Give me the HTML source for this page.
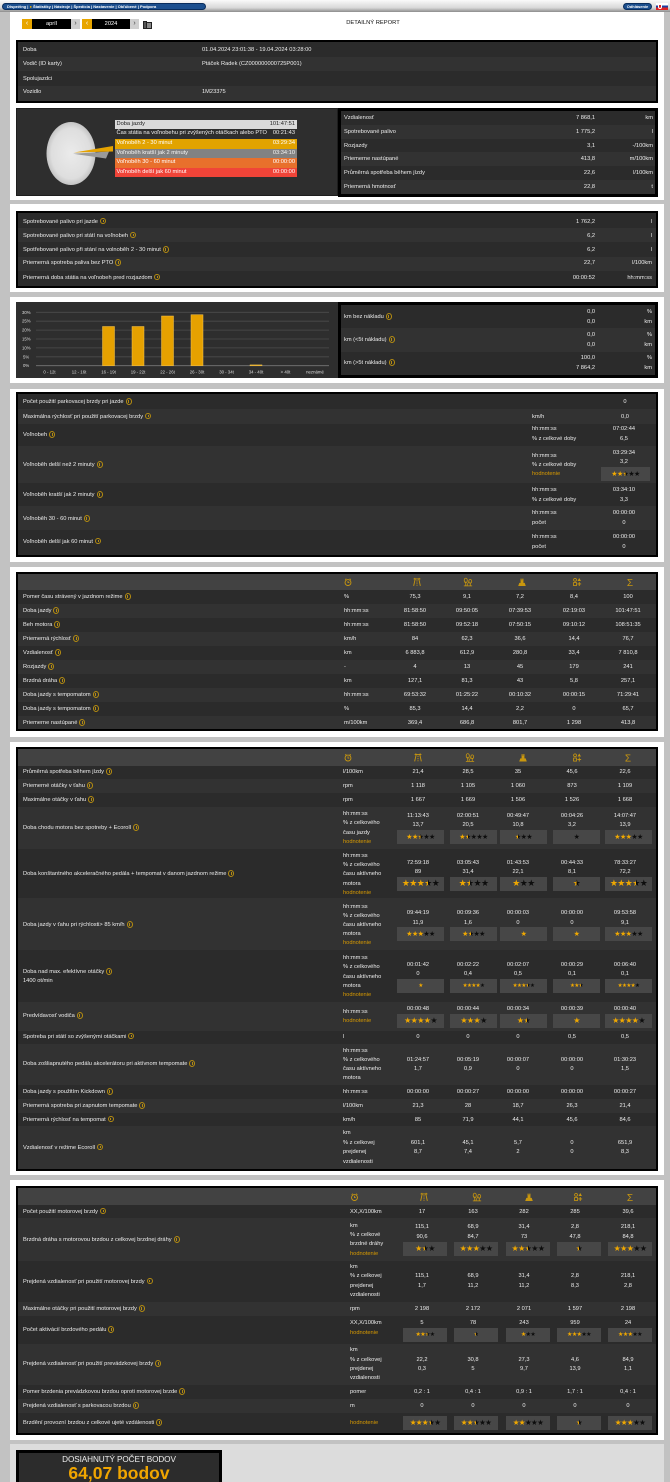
<!DOCTYPE html>
<html><head><meta charset="utf-8">
<style>
*{margin:0;padding:0;box-sizing:border-box}
html,body{width:670px;height:1482px;overflow:hidden}
body{background:#c2c2c2;position:relative;font-family:"Liberation Sans","DejaVu Sans",sans-serif;font-size:5.7px;color:#ececec}
div{position:absolute}
.t{white-space:nowrap;line-height:8px;height:8px}
.w{left:10px;width:654px;background:#fff}
.p{left:16px;width:642px;background:#000}
.r{left:18px;width:638px}
.d1{background:#2b2b2b}.d2{background:#323232}.hd{background:#424242}
.ic{display:inline-block;width:6px;height:6.5px;border:0.8px solid #b38b12;border-radius:50%;margin-left:2px;vertical-align:-1.5px;position:relative}
.ic:after{content:"";position:absolute;left:1.6px;top:1.2px;width:0.9px;height:2.6px;background:#b38b12}
.lb{left:23px}
.c{width:52px;text-align:center}
.rv{text-align:right}
.hod{color:#d89a00}
.x1{left:389px}.x2{left:441px}.x3{left:494px}.x4{left:548px}.x5{left:602px}
.y1{left:392px}.y2{left:442px}.y3{left:492px}.y4{left:546px}.y5{left:599px}
.z1{left:396px}.z2{left:447px}.z3{left:498px}.z4{left:549px}.z5{left:602px}
.u6{left:344px}.u7{left:343px}.u8{left:350px}
.sb{background:#474747;height:14px;width:47px;text-align:center;line-height:14px;font-size:7px;font-family:"DejaVu Sans",sans-serif;letter-spacing:-0.6px;white-space:nowrap}
.sb b{font-weight:normal;display:inline-block}
.q1{left:397px}.q2{left:450px}.q3{left:500px}.q4{left:553px}.q5{left:605px}
.w1{left:403px;width:44px}.w2{left:454px;width:44px}.w3{left:506px;width:44px}.w4{left:557px;width:44px}.w5{left:608px;width:44px}
.g{color:#f0a800}.k{color:#0d0d0d}
.h{background:linear-gradient(90deg,#f0a800 50%,#0d0d0d 50%);-webkit-background-clip:text;background-clip:text;color:transparent}
.lg{left:114.5px;width:182.5px;height:8.5px;line-height:8.5px;white-space:nowrap;padding:0 2px}
.lg span{float:right}
</style></head><body>

<svg width="0" height="0" style="position:absolute">
<defs>
<symbol id="clk" viewBox="0 0 10 10"><circle cx="5" cy="5.6" r="3.3" fill="none" stroke="#c9970e" stroke-width="1"/><path d="M5 3.8V5.7H6.5M1.8 2.4l1.3-1.1M8.2 2.4L6.9 1.3" stroke="#c9970e" stroke-width="0.9" fill="none"/></symbol>
<symbol id="hwy" viewBox="0 0 10 10"><path d="M1.2 1.6h7.6M3 1.6L1.3 9.3M7 1.6L8.7 9.3M5 3v1.4M5 5.6v1.4M5 8.1v1.1M2.6 1.6V0.4M7.4 1.6V0.4" stroke="#c9970e" stroke-width="1" fill="none"/></symbol>
<symbol id="rur" viewBox="0 0 10 10"><path d="M0.4 9.3h9.2M2.5 9.2V4.5M7.5 9.2V5.5" stroke="#c9970e" stroke-width="0.9"/><ellipse cx="2.5" cy="3.2" rx="1.7" ry="2.5" fill="none" stroke="#c9970e" stroke-width="0.9"/><ellipse cx="7.5" cy="4.2" rx="1.6" ry="2.1" fill="none" stroke="#c9970e" stroke-width="0.9"/><path d="M4 9.2c0-3 2-3 2-5.5" stroke="#c9970e" stroke-width="0.8" fill="none"/></symbol>
<symbol id="cty" viewBox="0 0 10 10"><path d="M0.8 9.5h8.4L8 6H6.6V1.2H5.3V3H4.6V1.2H3.4V6H2z" fill="#c9970e"/></symbol>
<symbol id="mix" viewBox="0 0 10 10"><circle cx="2.8" cy="2.6" r="1.6" fill="none" stroke="#c9970e" stroke-width="0.9"/><rect x="1.2" y="5.6" width="3.2" height="3.4" fill="none" stroke="#c9970e" stroke-width="0.9"/><path d="M7.5 0.6L9.4 3.9H5.6z" fill="#c9970e"/><path d="M7.5 5v4.4M5.4 7.2h4.2" stroke="#c9970e" stroke-width="1"/></symbol>
</defs></svg>

<!-- NAV -->
<div style="left:0;top:0;width:670px;height:12px;background:linear-gradient(#fafafa,#d8d8d8 65%,#8c8c8c)"></div>
<div style="left:2px;top:2.5px;width:204px;height:7px;border-radius:4px;background:#1c4f8e;border:0.6px solid #0a2d5c;color:#fff;font-size:4px;font-weight:bold;line-height:6px;padding-left:4px;white-space:nowrap">Dispečing | <span style="color:#f0b000">●</span> Štatistiky | Nástroje | Špedícia | Nastavenie | Obľúbené | Podpora</div>
<div style="left:623px;top:2.5px;width:29px;height:7px;border-radius:4px;background:#1c4f8e;border:0.6px solid #0a2d5c;color:#fff;font-size:4px;font-weight:bold;line-height:6px;text-align:center">Odhlásenie</div>
<div style="left:656px;top:3px;width:12px;height:7px;background:linear-gradient(#fff 33%,#1b3fa0 33%,#1b3fa0 66%,#e02020 66%)"></div>
<div style="left:658px;top:4px;width:3.5px;height:4.5px;background:#e02020;border:0.5px solid #fff;border-radius:0 0 2px 2px"></div>

<!-- SECTION A/B -->
<div class="w" style="top:12px;height:188px"></div>
<div style="left:22px;top:19px;width:10px;height:10px;background:#e8a600;color:#fff;font-size:7px;line-height:10px;text-align:center">‹</div>
<div style="left:32px;top:19px;width:39px;height:10px;background:#000;color:#fff;line-height:10px;text-align:center">apríl</div>
<div style="left:71px;top:19px;width:9px;height:10px;background:#cfcfcf;color:#444;font-size:7px;line-height:10px;text-align:center">›</div>
<div style="left:82px;top:19px;width:10px;height:10px;background:#e8a600;color:#fff;font-size:7px;line-height:10px;text-align:center">‹</div>
<div style="left:92px;top:19px;width:38px;height:10px;background:#000;color:#fff;line-height:10px;text-align:center">2024</div>
<div style="left:130px;top:19px;width:9px;height:10px;background:#cfcfcf;color:#444;font-size:7px;line-height:10px;text-align:center">›</div>
<div style="left:143px;top:21px;width:4px;height:8px;background:#555;border:1px solid #222"></div>
<div style="left:146px;top:21.5px;width:6px;height:7.5px;background:#888;border:1px solid #222"></div>
<div class="t" style="left:313px;top:19px;width:120px;text-align:center;color:#111;font-size:5.8px">DETAILNÝ REPORT</div>

<div class="p" style="top:40px;height:63px"></div>
<div class="r d1" style="top:42px;height:15px"></div>
<div class="r d2" style="top:57px;height:14px"></div>
<div class="r d1" style="top:71px;height:15px"></div>
<div class="r d2" style="top:86px;height:15px"></div>
<div class="t lb" style="top:46px">Doba</div><div class="t" style="left:202px;top:46px">01.04.2024 23:01:38 - 19.04.2024 03:28:00</div>
<div class="t lb" style="top:60px">Vodič (ID karty)</div><div class="t" style="left:202px;top:60px">Ptáček Radek (CZ000000000725P001)</div>
<div class="t lb" style="top:75px">Spolujazdci</div>
<div class="t lb" style="top:88px">Vozidlo</div><div class="t" style="left:202px;top:88px">1M23375</div>

<div style="left:16px;top:108px;width:322px;height:88px;background:#2e2e2e;border:1px solid #1e1e1e"></div>
<svg style="position:absolute;left:16px;top:108px" width="322" height="88">
<defs><radialGradient id="pg" cx="50%" cy="50%" r="50%"><stop offset="0" stop-color="#ebebeb"/><stop offset="0.8" stop-color="#dedede"/><stop offset="1" stop-color="#c4c4c4"/></radialGradient></defs>
<ellipse cx="55" cy="45.5" rx="24.5" ry="31.5" fill="url(#pg)"/>
<polygon points="57,45.8 93,43.5 90,50.5" fill="#9a9a9a"/>
<polygon points="58,44.5 97,38 97,43.5" fill="#e6a300"/>
</svg>
<div class="lg" style="top:120px;background:#dadada;color:#222">Doba jazdy<span>101:47:51</span></div>
<div class="lg" style="top:129px;color:#eee">Čas státia na voľnobehu pri zvýšených otáčkach alebo PTO<span>00:21:43</span></div>
<div class="lg" style="top:139px;height:9.5px;line-height:9.5px;background:#e2a300;color:#fff">Voľnoběh 2 - 30 minut<span>03:29:34</span></div>
<div class="lg" style="top:148.5px;height:9.5px;line-height:9.5px;background:#828282;color:#f4f4f4">Voľnoběh kratší jak 2 minuty<span>03:34:10</span></div>
<div class="lg" style="top:158px;height:9.5px;line-height:9.5px;background:#e8702c;color:#fff">Voľnoběh 30 - 60 minut<span>00:00:00</span></div>
<div class="lg" style="top:167.5px;height:9.5px;line-height:9.5px;background:#f04438;color:#fff">Voľnoběh delší jak 60 minut<span>00:00:00</span></div>

<div style="left:338px;top:108px;width:320px;height:89px;background:#000"></div>
<div class="d1" style="left:341px;top:111px;width:314px;height:13.8px"></div>
<div class="d2" style="left:341px;top:124.8px;width:314px;height:13.8px"></div>
<div class="d1" style="left:341px;top:138.6px;width:314px;height:13.8px"></div>
<div class="d2" style="left:341px;top:152.4px;width:314px;height:13.8px"></div>
<div class="d1" style="left:341px;top:166.2px;width:314px;height:13.8px"></div>
<div class="d2" style="left:341px;top:180px;width:314px;height:14px"></div>
<div class="t" style="left:344px;top:113.9px">Vzdialenosť</div><div class="t rv" style="left:535px;width:60px;top:113.9px">7 868,1</div><div class="t rv" style="left:600px;width:53px;top:113.9px">km</div>
<div class="t" style="left:344px;top:127.7px">Spotrebované palivo</div><div class="t rv" style="left:535px;width:60px;top:127.7px">1 775,2</div><div class="t rv" style="left:600px;width:53px;top:127.7px">l</div>
<div class="t" style="left:344px;top:141.5px">Rozjazdy</div><div class="t rv" style="left:535px;width:60px;top:141.5px">3,1</div><div class="t rv" style="left:600px;width:53px;top:141.5px">-/100km</div>
<div class="t" style="left:344px;top:155.3px">Priemerne nastúpané</div><div class="t rv" style="left:535px;width:60px;top:155.3px">413,8</div><div class="t rv" style="left:600px;width:53px;top:155.3px">m/100km</div>
<div class="t" style="left:344px;top:169.1px">Průměrná spotřeba během jízdy</div><div class="t rv" style="left:535px;width:60px;top:169.1px">22,6</div><div class="t rv" style="left:600px;width:53px;top:169.1px">l/100km</div>
<div class="t" style="left:344px;top:182.9px">Priemerná hmotnosť</div><div class="t rv" style="left:535px;width:60px;top:182.9px">22,8</div><div class="t rv" style="left:600px;width:53px;top:182.9px">t</div>

<!-- SECTION C -->
<div class="w" style="top:204px;height:88px"></div>
<div class="p" style="top:211px;height:77px"></div>
<div class="r d1" style="top:213px;height:15px"></div>
<div class="r d2" style="top:228px;height:14px"></div>
<div class="r d1" style="top:242px;height:15px"></div>
<div class="r d2" style="top:257px;height:14px"></div>
<div class="r d1" style="top:271px;height:15px"></div>
<div class="t lb" style="top:217.7px">Spotrebované palivo pri jazde<i class="ic"></i></div><div class="t rv" style="left:535px;width:60px;top:217.7px">1 762,2</div><div class="t rv" style="left:598px;width:54px;top:217.7px">l</div>
<div class="t lb" style="top:231.7px">Spotrebované palivo pri státí na voľnobeh<i class="ic"></i></div><div class="t rv" style="left:535px;width:60px;top:231.7px">6,2</div><div class="t rv" style="left:598px;width:54px;top:231.7px">l</div>
<div class="t lb" style="top:246px">Spotřebované palivo při stání na volnoběh 2 - 30 minut<i class="ic"></i></div><div class="t rv" style="left:535px;width:60px;top:246px">6,2</div><div class="t rv" style="left:598px;width:54px;top:246px">l</div>
<div class="t lb" style="top:259.3px">Priemerná spotreba paliva bez PTO<i class="ic"></i></div><div class="t rv" style="left:535px;width:60px;top:259.3px">22,7</div><div class="t rv" style="left:598px;width:54px;top:259.3px">l/100km</div>
<div class="t lb" style="top:273.7px">Priemerná doba státia na voľnobeh pred rozjazdom<i class="ic"></i></div><div class="t rv" style="left:535px;width:60px;top:273.7px">00:00:52</div><div class="t rv" style="left:598px;width:54px;top:273.7px">hh:mm:ss</div>

<!-- SECTION D -->
<div class="w" style="top:297px;height:86px"></div>
<div style="left:16px;top:302px;width:322px;height:76px;background:#2e2e2e"></div>
<svg style="position:absolute;left:16px;top:302px" width="322" height="76" font-family="Liberation Sans, sans-serif" font-size="4.3" fill="#ddd">
<g stroke="#4c4c4c" stroke-width="0.8">
<line x1="20" y1="10.3" x2="313" y2="10.3"/><line x1="20" y1="19.2" x2="313" y2="19.2"/><line x1="20" y1="28.1" x2="313" y2="28.1"/><line x1="20" y1="37" x2="313" y2="37"/><line x1="20" y1="45.9" x2="313" y2="45.9"/><line x1="20" y1="54.8" x2="313" y2="54.8"/>
</g>
<line x1="20" y1="63.7" x2="313" y2="63.7" stroke="#777" stroke-width="0.8"/>
<text x="6" y="11.8">30%</text><text x="6" y="20.7">25%</text><text x="6" y="29.6">20%</text><text x="6" y="38.5">15%</text><text x="6" y="47.4">10%</text><text x="7" y="56.3">5%</text><text x="7" y="65.2">0%</text>
<g fill="#e6a100" stroke="#f3c24f" stroke-width="0.5">
<rect x="86.5" y="24.5" width="12" height="39.2"/>
<rect x="116" y="24.5" width="12" height="39.2"/>
<rect x="145.5" y="14" width="12" height="49.7"/>
<rect x="175" y="12.7" width="12" height="51"/>
<rect x="234" y="62.9" width="12" height="0.8"/>
</g>
<g text-anchor="middle">
<text x="33.5" y="71.5">0 - 12t</text><text x="63" y="71.5">12 - 16t</text><text x="92.5" y="71.5">16 - 19t</text><text x="122" y="71.5">19 - 22t</text><text x="151.5" y="71.5">22 - 26t</text><text x="181" y="71.5">26 - 30t</text><text x="210.5" y="71.5">30 - 34t</text><text x="240" y="71.5">34 - 40t</text><text x="269.5" y="71.5">&gt; 40t</text><text x="299" y="71.5">neznámé</text>
</g>
</svg>
<div style="left:338px;top:302px;width:320px;height:76px;background:#000"></div>
<div class="d1" style="left:341px;top:305px;width:314px;height:23px"></div>
<div class="d2" style="left:341px;top:328px;width:314px;height:23.5px"></div>
<div class="d1" style="left:341px;top:351.5px;width:314px;height:23.5px"></div>
<div class="t" style="left:344px;top:313.3px">km bez nákladu<i class="ic"></i></div>
<div class="t rv" style="left:535px;width:60px;top:308px">0,0</div><div class="t rv" style="left:535px;width:60px;top:318px">0,0</div>
<div class="t rv" style="left:598px;width:54px;top:308px">%</div><div class="t rv" style="left:598px;width:54px;top:318px">km</div>
<div class="t" style="left:344px;top:336px">km (&lt;5t nákladu)<i class="ic"></i></div>
<div class="t rv" style="left:535px;width:60px;top:331px">0,0</div><div class="t rv" style="left:535px;width:60px;top:340.7px">0,0</div>
<div class="t rv" style="left:598px;width:54px;top:331px">%</div><div class="t rv" style="left:598px;width:54px;top:340.7px">km</div>
<div class="t" style="left:344px;top:359.3px">km (&gt;5t nákladu)<i class="ic"></i></div>
<div class="t rv" style="left:535px;width:60px;top:354px">100,0</div><div class="t rv" style="left:535px;width:60px;top:363.7px">7 864,2</div>
<div class="t rv" style="left:598px;width:54px;top:354px">%</div><div class="t rv" style="left:598px;width:54px;top:363.7px">km</div>

<!-- SECTION E -->
<div class="w" style="top:389px;height:173px"></div>
<div class="p" style="top:392px;height:165px"></div>
<div class="r d1" style="top:394px;height:15px"></div>
<div class="r d2" style="top:409px;height:15px"></div>
<div class="r d1" style="top:424px;height:22px"></div>
<div class="r d2" style="top:446px;height:37px"></div>
<div class="r d1" style="top:483px;height:23px"></div>
<div class="r d2" style="top:506px;height:24px"></div>
<div class="r d1" style="top:530px;height:25px"></div>
<div class="t lb" style="top:398px">Počet použití parkovacej brzdy pri jazde<i class="ic"></i></div><div class="t c" style="left:599px;top:398px">0</div>
<div class="t lb" style="top:412.7px">Maximálna rýchlosť pri použití parkovacej brzdy<i class="ic"></i></div><div class="t" style="left:532px;top:412.7px">km/h</div><div class="t c" style="left:599px;top:412.7px">0,0</div>
<div class="t lb" style="top:431px">Voľnobeh<i class="ic"></i></div><div class="t" style="left:532px;top:425.3px">hh:mm:ss</div><div class="t" style="left:532px;top:435.3px">% z celkové doby</div><div class="t c" style="left:598px;top:425.3px">07:02:44</div><div class="t c" style="left:598px;top:435.3px">6,5</div>
<div class="t lb" style="top:461px">Voľnoběh delší než 2 minuty<i class="ic"></i></div><div class="t" style="left:532px;top:451.7px">hh:mm:ss</div><div class="t" style="left:532px;top:461px">% z celkové doby</div><div class="t hod" style="left:532px;top:470.3px">hodnotenie</div><div class="t c" style="left:598px;top:449px">03:29:34</div><div class="t c" style="left:598px;top:458.3px">3,2</div>
<div class="sb" style="left:601px;top:467px;width:49px"><b class="g">★★</b><b class="h">★</b><b class="k">★★</b></div>
<div class="t lb" style="top:491px">Voľnoběh kratší jak 2 minuty<i class="ic"></i></div><div class="t" style="left:532px;top:486.3px">hh:mm:ss</div><div class="t" style="left:532px;top:496px">% z celkové doby</div><div class="t c" style="left:598px;top:486.3px">03:34:10</div><div class="t c" style="left:598px;top:496px">3,3</div>
<div class="t lb" style="top:515px">Voľnoběh 30 - 60 minut<i class="ic"></i></div><div class="t" style="left:532px;top:509.3px">hh:mm:ss</div><div class="t" style="left:532px;top:518.7px">počet</div><div class="t c" style="left:598px;top:509.3px">00:00:00</div><div class="t c" style="left:598px;top:518.7px">0</div>
<div class="t lb" style="top:537.7px">Voľnoběh delší jak 60 minut<i class="ic"></i></div><div class="t" style="left:532px;top:533px">hh:mm:ss</div><div class="t" style="left:532px;top:542.7px">počet</div><div class="t c" style="left:598px;top:533px">00:00:00</div><div class="t c" style="left:598px;top:542.7px">0</div>

<!-- SECTION F -->
<div class="w" style="top:567px;height:170px"></div>
<div class="p" style="top:572px;height:159px"></div>
<div class="r hd" style="top:574px;height:16px"></div>
<svg style="position:absolute;left:0;top:574px" width="670" height="16">
<use href="#clk" x="343.5" y="3.5" width="9" height="9"/><use href="#hwy" x="412.5" y="3.5" width="9" height="9"/><use href="#rur" x="463.5" y="3.5" width="9" height="9"/><use href="#cty" x="517.5" y="3.5" width="9" height="9"/><use href="#mix" x="572.5" y="3.5" width="9" height="9"/>
<text x="630" y="12" text-anchor="middle" font-family="Liberation Sans, sans-serif" font-size="10" fill="#c9970e">Σ</text>
</svg>
<div class="r d1" style="top:590px;height:14px"></div><div class="r d2" style="top:604px;height:14px"></div><div class="r d1" style="top:618px;height:14px"></div><div class="r d2" style="top:632px;height:14px"></div><div class="r d1" style="top:646px;height:14px"></div><div class="r d2" style="top:660px;height:14px"></div><div class="r d1" style="top:674px;height:14px"></div><div class="r d2" style="top:688px;height:14px"></div><div class="r d1" style="top:702px;height:14px"></div><div class="r d2" style="top:716px;height:13px"></div>
<div class="t lb" style="top:593px">Pomer času strávený v jazdnom režime<i class="ic"></i></div><div class="t u6" style="top:593px">%</div><div class="t c x1" style="top:593px">75,3</div><div class="t c x2" style="top:593px">9,1</div><div class="t c x3" style="top:593px">7,2</div><div class="t c x4" style="top:593px">8,4</div><div class="t c x5" style="top:593px">100</div>
<div class="t lb" style="top:607px">Doba jazdy<i class="ic"></i></div><div class="t u6" style="top:607px">hh:mm:ss</div><div class="t c x1" style="top:607px">81:58:50</div><div class="t c x2" style="top:607px">09:50:05</div><div class="t c x3" style="top:607px">07:39:53</div><div class="t c x4" style="top:607px">02:19:03</div><div class="t c x5" style="top:607px">101:47:51</div>
<div class="t lb" style="top:621px">Beh motora<i class="ic"></i></div><div class="t u6" style="top:621px">hh:mm:ss</div><div class="t c x1" style="top:621px">81:58:50</div><div class="t c x2" style="top:621px">09:52:18</div><div class="t c x3" style="top:621px">07:50:15</div><div class="t c x4" style="top:621px">09:10:12</div><div class="t c x5" style="top:621px">108:51:35</div>
<div class="t lb" style="top:635px">Priemerná rýchlosť<i class="ic"></i></div><div class="t u6" style="top:635px">km/h</div><div class="t c x1" style="top:635px">84</div><div class="t c x2" style="top:635px">62,3</div><div class="t c x3" style="top:635px">36,6</div><div class="t c x4" style="top:635px">14,4</div><div class="t c x5" style="top:635px">76,7</div>
<div class="t lb" style="top:649px">Vzdialenosť<i class="ic"></i></div><div class="t u6" style="top:649px">km</div><div class="t c x1" style="top:649px">6 883,8</div><div class="t c x2" style="top:649px">612,9</div><div class="t c x3" style="top:649px">280,8</div><div class="t c x4" style="top:649px">33,4</div><div class="t c x5" style="top:649px">7 810,8</div>
<div class="t lb" style="top:663px">Rozjazdy<i class="ic"></i></div><div class="t u6" style="top:663px">-</div><div class="t c x1" style="top:663px">4</div><div class="t c x2" style="top:663px">13</div><div class="t c x3" style="top:663px">45</div><div class="t c x4" style="top:663px">179</div><div class="t c x5" style="top:663px">241</div>
<div class="t lb" style="top:677px">Brzdná dráha<i class="ic"></i></div><div class="t u6" style="top:677px">km</div><div class="t c x1" style="top:677px">127,1</div><div class="t c x2" style="top:677px">81,3</div><div class="t c x3" style="top:677px">43</div><div class="t c x4" style="top:677px">5,8</div><div class="t c x5" style="top:677px">257,1</div>
<div class="t lb" style="top:691px">Doba jazdy s tempomatom<i class="ic"></i></div><div class="t u6" style="top:691px">hh:mm:ss</div><div class="t c x1" style="top:691px">69:53:32</div><div class="t c x2" style="top:691px">01:25:22</div><div class="t c x3" style="top:691px">00:10:32</div><div class="t c x4" style="top:691px">00:00:15</div><div class="t c x5" style="top:691px">71:29:41</div>
<div class="t lb" style="top:705px">Doba jazdy s tempomatom<i class="ic"></i></div><div class="t u6" style="top:705px">%</div><div class="t c x1" style="top:705px">85,3</div><div class="t c x2" style="top:705px">14,4</div><div class="t c x3" style="top:705px">2,2</div><div class="t c x4" style="top:705px">0</div><div class="t c x5" style="top:705px">65,7</div>
<div class="t lb" style="top:719px">Priemerne nastúpané<i class="ic"></i></div><div class="t u6" style="top:719px">m/100km</div><div class="t c x1" style="top:719px">369,4</div><div class="t c x2" style="top:719px">686,8</div><div class="t c x3" style="top:719px">801,7</div><div class="t c x4" style="top:719px">1 298</div><div class="t c x5" style="top:719px">413,8</div>

<!-- SECTION G -->
<div class="w" style="top:742px;height:433px"></div>
<div class="p" style="top:747px;height:424px"></div>
<div class="r hd" style="top:749px;height:17px"></div>
<svg style="position:absolute;left:0;top:749px" width="670" height="17">
<use href="#clk" x="343.5" y="4" width="9" height="9"/><use href="#hwy" x="413.5" y="4" width="9" height="9"/><use href="#rur" x="465.5" y="4" width="9" height="9"/><use href="#cty" x="518.5" y="4" width="9" height="9"/><use href="#mix" x="572.5" y="4" width="9" height="9"/>
<text x="628" y="12.5" text-anchor="middle" font-family="Liberation Sans, sans-serif" font-size="10" fill="#c9970e">Σ</text>
</svg>
<div class="r d1" style="top:766px;height:13px"></div><div class="r d2" style="top:779px;height:14px"></div><div class="r d1" style="top:793px;height:14px"></div><div class="r d2" style="top:807px;height:42px"></div><div class="r d1" style="top:849px;height:49px"></div><div class="r d2" style="top:898px;height:52px"></div><div class="r d1" style="top:950px;height:52px"></div><div class="r d2" style="top:1002px;height:29px"></div><div class="r d1" style="top:1031px;height:13px"></div><div class="r d2" style="top:1044px;height:41px"></div><div class="r d1" style="top:1085px;height:14px"></div><div class="r d2" style="top:1099px;height:14px"></div><div class="r d1" style="top:1113px;height:13px"></div><div class="r d2" style="top:1126px;height:43px"></div>

<div class="t lb" style="top:768.3px">Průměrná spotřeba během jízdy<i class="ic"></i></div><div class="t u7" style="top:768.3px">l/100km</div><div class="t c y1" style="top:768.3px">21,4</div><div class="t c y2" style="top:768.3px">28,5</div><div class="t c y3" style="top:768.3px">35</div><div class="t c y4" style="top:768.3px">45,6</div><div class="t c y5" style="top:768.3px">22,6</div>
<div class="t lb" style="top:782px">Priemerné otáčky v ťahu<i class="ic"></i></div><div class="t u7" style="top:782px">rpm</div><div class="t c y1" style="top:782px">1 118</div><div class="t c y2" style="top:782px">1 105</div><div class="t c y3" style="top:782px">1 060</div><div class="t c y4" style="top:782px">873</div><div class="t c y5" style="top:782px">1 109</div>
<div class="t lb" style="top:796px">Maximálne otáčky v ťahu<i class="ic"></i></div><div class="t u7" style="top:796px">rpm</div><div class="t c y1" style="top:796px">1 667</div><div class="t c y2" style="top:796px">1 669</div><div class="t c y3" style="top:796px">1 506</div><div class="t c y4" style="top:796px">1 526</div><div class="t c y5" style="top:796px">1 668</div>

<div class="t lb" style="top:824.3px">Doba chodu motora bez spotreby + Ecoroll<i class="ic"></i></div>
<div class="t u7" style="top:810px">hh:mm:ss</div><div class="t u7" style="top:819.3px">% z celkového</div><div class="t u7" style="top:828.7px">času jazdy</div><div class="t u7 hod" style="top:838px">hodnotenie</div>
<div class="t c y1" style="top:812.3px">11:13:43</div><div class="t c y2" style="top:812.3px">02:00:51</div><div class="t c y3" style="top:812.3px">00:49:47</div><div class="t c y4" style="top:812.3px">00:04:26</div><div class="t c y5" style="top:812.3px">14:07:47</div>
<div class="t c y1" style="top:821.3px">13,7</div><div class="t c y2" style="top:821.3px">20,5</div><div class="t c y3" style="top:821.3px">10,8</div><div class="t c y4" style="top:821.3px">3,2</div><div class="t c y5" style="top:821.3px">13,9</div>
<div class="sb q1" style="top:830px"><b class="g">★★</b><b class="h">★</b><b class="k">★★</b></div>
<div class="sb q2" style="top:830px"><b class="g">★</b><b class="h">★</b><b class="k">★★★</b></div>
<div class="sb q3" style="top:830px"><b class="h">★</b><b class="k">★★</b></div>
<div class="sb q4" style="top:830px"><b class="k">★</b></div>
<div class="sb q5" style="top:830px"><b class="g">★★★</b><b class="k">★★</b></div>

<div class="t lb" style="top:870.3px">Doba konštantného akceleračného pedála + tempomat v danom jazdnom režime<i class="ic"></i></div>
<div class="t u7" style="top:852px">hh:mm:ss</div><div class="t u7" style="top:861.3px">% z celkového</div><div class="t u7" style="top:870.3px">času aktívneho</div><div class="t u7" style="top:879.7px">motora</div><div class="t u7 hod" style="top:889px">hodnotenie</div>
<div class="t c y1" style="top:858.7px">72:59:18</div><div class="t c y2" style="top:858.7px">03:05:43</div><div class="t c y3" style="top:858.7px">01:43:53</div><div class="t c y4" style="top:858.7px">00:44:33</div><div class="t c y5" style="top:858.7px">78:33:27</div>
<div class="t c y1" style="top:867.7px">89</div><div class="t c y2" style="top:867.7px">31,4</div><div class="t c y3" style="top:867.7px">22,1</div><div class="t c y4" style="top:867.7px">8,1</div><div class="t c y5" style="top:867.7px">72,2</div>
<div class="sb q1" style="top:876.7px;font-size:9px"><b class="g">★★★</b><b class="h">★</b><b class="k">★</b></div>
<div class="sb q2" style="top:876.7px;font-size:9px"><b class="g">★</b><b class="h">★</b><b class="k">★★</b></div>
<div class="sb q3" style="top:876.7px;font-size:9px"><b class="g">★</b><b class="k">★★</b></div>
<div class="sb q4" style="top:876.7px;font-size:9px"><b class="h">★</b></div>
<div class="sb q5" style="top:876.7px;font-size:9px"><b class="g">★★★</b><b class="h">★</b><b class="k">★</b></div>

<div class="t lb" style="top:921px">Doba jazdy v ťahu pri rýchlosti&gt; 85 km/h<i class="ic"></i></div>
<div class="t u7" style="top:902.7px">hh:mm:ss</div><div class="t u7" style="top:911.7px">% z celkového</div><div class="t u7" style="top:921px">času aktívneho</div><div class="t u7" style="top:930.3px">motora</div><div class="t u7 hod" style="top:939.3px">hodnotenie</div>
<div class="t c y1" style="top:909.3px">09:44:19</div><div class="t c y2" style="top:909.3px">00:09:36</div><div class="t c y3" style="top:909.3px">00:00:03</div><div class="t c y4" style="top:909.3px">00:00:00</div><div class="t c y5" style="top:909.3px">09:53:58</div>
<div class="t c y1" style="top:918.7px">11,9</div><div class="t c y2" style="top:918.7px">1,6</div><div class="t c y3" style="top:918.7px">0</div><div class="t c y4" style="top:918.7px">0</div><div class="t c y5" style="top:918.7px">9,1</div>
<div class="sb q1" style="top:927px"><b class="g">★★★</b><b class="k">★★</b></div>
<div class="sb q2" style="top:927px"><b class="g">★</b><b class="h">★</b><b class="k">★★</b></div>
<div class="sb q3" style="top:927px"><b class="g">★</b></div>
<div class="sb q4" style="top:927px"><b class="g">★</b></div>
<div class="sb q5" style="top:927px"><b class="g">★★★</b><b class="k">★★</b></div>

<div class="t lb" style="top:968.3px">Doba nad max. efektívne otáčky<i class="ic"></i></div><div class="t lb" style="top:977px">1400 ot/min</div>
<div class="t u7" style="top:953.7px">hh:mm:ss</div><div class="t u7" style="top:963.3px">% z celkového</div><div class="t u7" style="top:972.7px">času aktívneho</div><div class="t u7" style="top:982px">motora</div><div class="t u7 hod" style="top:991px">hodnotenie</div>
<div class="t c y1" style="top:961px">00:01:42</div><div class="t c y2" style="top:961px">00:02:22</div><div class="t c y3" style="top:961px">00:02:07</div><div class="t c y4" style="top:961px">00:00:29</div><div class="t c y5" style="top:961px">00:06:40</div>
<div class="t c y1" style="top:970px">0</div><div class="t c y2" style="top:970px">0,4</div><div class="t c y3" style="top:970px">0,5</div><div class="t c y4" style="top:970px">0,1</div><div class="t c y5" style="top:970px">0,1</div>
<div class="sb q1" style="top:979px;font-size:5.5px"><b class="g">★</b></div>
<div class="sb q2" style="top:979px;font-size:5.5px"><b class="g">★★★★</b><b class="k">★</b></div>
<div class="sb q3" style="top:979px;font-size:5.5px"><b class="g">★★★</b><b class="h">★</b><b class="k">★</b></div>
<div class="sb q4" style="top:979px;font-size:5.5px"><b class="g">★★</b><b class="h">★</b></div>
<div class="sb q5" style="top:979px;font-size:5.5px"><b class="g">★★★★</b><b class="k">★</b></div>

<div class="t lb" style="top:1012px">Predvídavosť vodiča<i class="ic"></i></div>
<div class="t u7" style="top:1007.7px">hh:mm:ss</div><div class="t u7 hod" style="top:1016.7px">hodnotenie</div>
<div class="t c y1" style="top:1005px">00:00:48</div><div class="t c y2" style="top:1005px">00:00:44</div><div class="t c y3" style="top:1005px">00:00:34</div><div class="t c y4" style="top:1005px">00:00:39</div><div class="t c y5" style="top:1005px">00:00:40</div>
<div class="sb q1" style="top:1014px;font-size:8px"><b class="g">★★★★</b><b class="k">★</b></div>
<div class="sb q2" style="top:1014px;font-size:8px"><b class="g">★★★</b><b class="k">★</b></div>
<div class="sb q3" style="top:1014px;font-size:8px"><b class="g">★</b><b class="h">★</b></div>
<div class="sb q4" style="top:1014px;font-size:8px"><b class="g">★</b></div>
<div class="sb q5" style="top:1014px;font-size:8px"><b class="g">★★★★</b><b class="k">★</b></div>

<div class="t lb" style="top:1032.7px">Spotreba pri státí so zvýšenými otáčkami<i class="ic"></i></div><div class="t u7" style="top:1032.7px">l</div><div class="t c y1" style="top:1032.7px">0</div><div class="t c y2" style="top:1032.7px">0</div><div class="t c y3" style="top:1032.7px">0</div><div class="t c y4" style="top:1032.7px">0,5</div><div class="t c y5" style="top:1032.7px">0,5</div>

<div class="t lb" style="top:1060.3px">Doba zošliapnutého pedálu akcelerátoru pri aktívnom tempomate<i class="ic"></i></div>
<div class="t u7" style="top:1046.7px">hh:mm:ss</div><div class="t u7" style="top:1056px">% z celkového</div><div class="t u7" style="top:1065px">času aktívneho</div><div class="t u7" style="top:1074.3px">motora</div>
<div class="t c y1" style="top:1056px">01:24:57</div><div class="t c y2" style="top:1056px">00:05:19</div><div class="t c y3" style="top:1056px">00:00:07</div><div class="t c y4" style="top:1056px">00:00:00</div><div class="t c y5" style="top:1056px">01:30:23</div>
<div class="t c y1" style="top:1065px">1,7</div><div class="t c y2" style="top:1065px">0,9</div><div class="t c y3" style="top:1065px">0</div><div class="t c y4" style="top:1065px">0</div><div class="t c y5" style="top:1065px">1,5</div>

<div class="t lb" style="top:1088px">Doba jazdy s použitím Kickdown<i class="ic"></i></div><div class="t u7" style="top:1088px">hh:mm:ss</div><div class="t c y1" style="top:1088px">00:00:00</div><div class="t c y2" style="top:1088px">00:00:27</div><div class="t c y3" style="top:1088px">00:00:00</div><div class="t c y4" style="top:1088px">00:00:00</div><div class="t c y5" style="top:1088px">00:00:27</div>
<div class="t lb" style="top:1102px">Priemerná spotreba pri zapnutom tempomate<i class="ic"></i></div><div class="t u7" style="top:1102px">l/100km</div><div class="t c y1" style="top:1102px">21,3</div><div class="t c y2" style="top:1102px">28</div><div class="t c y3" style="top:1102px">18,7</div><div class="t c y4" style="top:1102px">26,3</div><div class="t c y5" style="top:1102px">21,4</div>
<div class="t lb" style="top:1115.7px">Priemerná rýchlosť na tempomat<i class="ic"></i></div><div class="t u7" style="top:1115.7px">km/h</div><div class="t c y1" style="top:1115.7px">85</div><div class="t c y2" style="top:1115.7px">71,9</div><div class="t c y3" style="top:1115.7px">44,1</div><div class="t c y4" style="top:1115.7px">45,6</div><div class="t c y5" style="top:1115.7px">84,6</div>

<div class="t lb" style="top:1143.7px">Vzdialenosť v režime Ecoroll<i class="ic"></i></div>
<div class="t u7" style="top:1129.3px">km</div><div class="t u7" style="top:1138.7px">% z celkovej</div><div class="t u7" style="top:1148.3px">prejdenej</div><div class="t u7" style="top:1157.7px">vzdialenosti</div>
<div class="t c y1" style="top:1138.7px">601,1</div><div class="t c y2" style="top:1138.7px">45,1</div><div class="t c y3" style="top:1138.7px">5,7</div><div class="t c y4" style="top:1138.7px">0</div><div class="t c y5" style="top:1138.7px">651,9</div>
<div class="t c y1" style="top:1148.3px">8,7</div><div class="t c y2" style="top:1148.3px">7,4</div><div class="t c y3" style="top:1148.3px">2</div><div class="t c y4" style="top:1148.3px">0</div><div class="t c y5" style="top:1148.3px">8,3</div>

<!-- SECTION H -->
<div class="w" style="top:1180px;height:260px"></div>
<div class="p" style="top:1186px;height:249px"></div>
<div class="r hd" style="top:1188px;height:17px"></div>
<svg style="position:absolute;left:0;top:1188px" width="670" height="17">
<use href="#clk" x="350" y="4.5" width="9" height="9"/><use href="#hwy" x="419.5" y="4.5" width="9" height="9"/><use href="#rur" x="472.5" y="4.5" width="9" height="9"/><use href="#cty" x="524.5" y="4.5" width="9" height="9"/><use href="#mix" x="573.5" y="4.5" width="9" height="9"/>
<text x="630" y="13" text-anchor="middle" font-family="Liberation Sans, sans-serif" font-size="10" fill="#c9970e">Σ</text>
</svg>
<div class="r d1" style="top:1205px;height:13px"></div><div class="r d2" style="top:1218px;height:43px"></div><div class="r d1" style="top:1261px;height:41px"></div><div class="r d2" style="top:1302px;height:14px"></div><div class="r d1" style="top:1316px;height:28px"></div><div class="r d2" style="top:1344px;height:41px"></div><div class="r d1" style="top:1385px;height:14px"></div><div class="r d2" style="top:1399px;height:14px"></div><div class="r d1" style="top:1413px;height:20px"></div>

<div class="t lb" style="top:1207.7px">Počet použití motorovej brzdy<i class="ic"></i></div><div class="t u8" style="top:1207.7px">XX,X/100km</div><div class="t c z1" style="top:1207.7px">17</div><div class="t c z2" style="top:1207.7px">163</div><div class="t c z3" style="top:1207.7px">282</div><div class="t c z4" style="top:1207.7px">285</div><div class="t c z5" style="top:1207.7px">39,6</div>

<div class="t lb" style="top:1236px">Brzdná dráha s motorovou brzdou z celkovej brzdnej dráhy<i class="ic"></i></div>
<div class="t u8" style="top:1221.7px">km</div><div class="t u8" style="top:1231px">% z celkové</div><div class="t u8" style="top:1240.3px">brzdné dráhy</div><div class="t u8 hod" style="top:1249.7px">hodnotenie</div>
<div class="t c z1" style="top:1223.3px">115,1</div><div class="t c z2" style="top:1223.3px">68,9</div><div class="t c z3" style="top:1223.3px">31,4</div><div class="t c z4" style="top:1223.3px">2,8</div><div class="t c z5" style="top:1223.3px">218,1</div>
<div class="t c z1" style="top:1232.7px">90,6</div><div class="t c z2" style="top:1232.7px">84,7</div><div class="t c z3" style="top:1232.7px">73</div><div class="t c z4" style="top:1232.7px">47,8</div><div class="t c z5" style="top:1232.7px">84,8</div>
<div class="sb w1" style="top:1241.7px;font-size:8px"><b class="g">★</b><b class="h">★</b><b class="k">★</b></div>
<div class="sb w2" style="top:1241.7px;font-size:8px"><b class="g">★★★</b><b class="k">★★</b></div>
<div class="sb w3" style="top:1241.7px;font-size:8px"><b class="g">★★</b><b class="h">★</b><b class="k">★★</b></div>
<div class="sb w4" style="top:1241.7px;font-size:8px"><b class="h">★</b></div>
<div class="sb w5" style="top:1241.7px;font-size:8px"><b class="g">★★★</b><b class="k">★★</b></div>

<div class="t lb" style="top:1277.7px">Prejdená vzdialenosť pri použití motorovej brzdy<i class="ic"></i></div>
<div class="t u8" style="top:1262.7px">km</div><div class="t u8" style="top:1272px">% z celkovej</div><div class="t u8" style="top:1281.7px">prejdenej</div><div class="t u8" style="top:1291px">vzdialenosti</div>
<div class="t c z1" style="top:1272px">115,1</div><div class="t c z2" style="top:1272px">68,9</div><div class="t c z3" style="top:1272px">31,4</div><div class="t c z4" style="top:1272px">2,8</div><div class="t c z5" style="top:1272px">218,1</div>
<div class="t c z1" style="top:1281.7px">1,7</div><div class="t c z2" style="top:1281.7px">11,2</div><div class="t c z3" style="top:1281.7px">11,2</div><div class="t c z4" style="top:1281.7px">8,3</div><div class="t c z5" style="top:1281.7px">2,8</div>

<div class="t lb" style="top:1305px">Maximálne otáčky pri použití motorovej brzdy<i class="ic"></i></div><div class="t u8" style="top:1305px">rpm</div><div class="t c z1" style="top:1305px">2 198</div><div class="t c z2" style="top:1305px">2 172</div><div class="t c z3" style="top:1305px">2 071</div><div class="t c z4" style="top:1305px">1 597</div><div class="t c z5" style="top:1305px">2 198</div>

<div class="t lb" style="top:1326px">Počet aktivácií brzdového pedálu<i class="ic"></i></div>
<div class="t u8" style="top:1318.7px">XX,X/100km</div><div class="t u8 hod" style="top:1328.7px">hodnotenie</div>
<div class="t c z1" style="top:1318.7px">5</div><div class="t c z2" style="top:1318.7px">78</div><div class="t c z3" style="top:1318.7px">243</div><div class="t c z4" style="top:1318.7px">959</div><div class="t c z5" style="top:1318.7px">24</div>
<div class="sb w1" style="top:1328px;height:13.5px;font-size:6px"><b class="g">★★</b><b class="h">★</b><b class="k">★</b></div>
<div class="sb w2" style="top:1328px;height:13.5px;font-size:6px"><b class="h">★</b></div>
<div class="sb w3" style="top:1328px;height:13.5px;font-size:6px"><b class="g">★</b><b class="k">★★</b></div>
<div class="sb w4" style="top:1328px;height:13.5px;font-size:6px"><b class="g">★★★</b><b class="k">★★</b></div>
<div class="sb w5" style="top:1328px;height:13.5px;font-size:6px"><b class="g">★★★</b><b class="k">★★</b></div>

<div class="t lb" style="top:1360.3px">Prejdená vzdialenosť pri použití prevádzkovej brzdy<i class="ic"></i></div>
<div class="t u8" style="top:1346px">km</div><div class="t u8" style="top:1356px">% z celkovej</div><div class="t u8" style="top:1365.3px">prejdenej</div><div class="t u8" style="top:1374.3px">vzdialenosti</div>
<div class="t c z1" style="top:1356px">22,2</div><div class="t c z2" style="top:1356px">30,8</div><div class="t c z3" style="top:1356px">27,3</div><div class="t c z4" style="top:1356px">4,6</div><div class="t c z5" style="top:1356px">84,9</div>
<div class="t c z1" style="top:1365.3px">0,3</div><div class="t c z2" style="top:1365.3px">5</div><div class="t c z3" style="top:1365.3px">9,7</div><div class="t c z4" style="top:1365.3px">13,9</div><div class="t c z5" style="top:1365.3px">1,1</div>

<div class="t lb" style="top:1388px">Pomer brzdenia prevádzkovou brzdou oproti motorovej brzde<i class="ic"></i></div><div class="t u8" style="top:1388px">pomer</div><div class="t c z1" style="top:1388px">0,2 : 1</div><div class="t c z2" style="top:1388px">0,4 : 1</div><div class="t c z3" style="top:1388px">0,9 : 1</div><div class="t c z4" style="top:1388px">1,7 : 1</div><div class="t c z5" style="top:1388px">0,4 : 1</div>
<div class="t lb" style="top:1402.3px">Prejdená vzdialenosť s parkovacou brzdou<i class="ic"></i></div><div class="t u8" style="top:1402.3px">m</div><div class="t c z1" style="top:1402.3px">0</div><div class="t c z2" style="top:1402.3px">0</div><div class="t c z3" style="top:1402.3px">0</div><div class="t c z4" style="top:1402.3px">0</div><div class="t c z5" style="top:1402.3px">0</div>

<div class="t lb" style="top:1419px">Brzdění provozní brzdou z celkové ujeté vzdálenosti<i class="ic"></i></div><div class="t u8 hod" style="top:1419px">hodnotenie</div>
<div class="sb w1" style="top:1416px;font-size:7.5px"><b class="g">★★★</b><b class="h">★</b><b class="k">★</b></div>
<div class="sb w2" style="top:1416px;font-size:7.5px"><b class="g">★★</b><b class="h">★</b><b class="k">★★</b></div>
<div class="sb w3" style="top:1416px;font-size:7.5px"><b class="g">★★</b><b class="k">★★★</b></div>
<div class="sb w4" style="top:1416px;font-size:7.5px"><b class="h">★</b></div>
<div class="sb w5" style="top:1416px;font-size:7.5px"><b class="g">★★★</b><b class="k">★★</b></div>

<!-- SECTION I -->
<div style="left:10px;top:1444px;width:654px;height:38px;background:#dcdcdc"></div>
<div style="left:16px;top:1450px;width:206px;height:40px;background:#2c2c2c;border:3px solid #000"></div>
<div class="t" style="left:16px;top:1455px;width:206px;text-align:center;font-size:8.2px;line-height:9px;height:9px;color:#eee;letter-spacing:-0.1px">DOSIAHNUTÝ POČET BODOV</div>
<div class="t" style="left:16px;top:1463.5px;width:206px;text-align:center;font-size:17.5px;line-height:19px;height:19px;color:#f0a500;font-weight:bold">64,07 bodov</div>

</body></html>
